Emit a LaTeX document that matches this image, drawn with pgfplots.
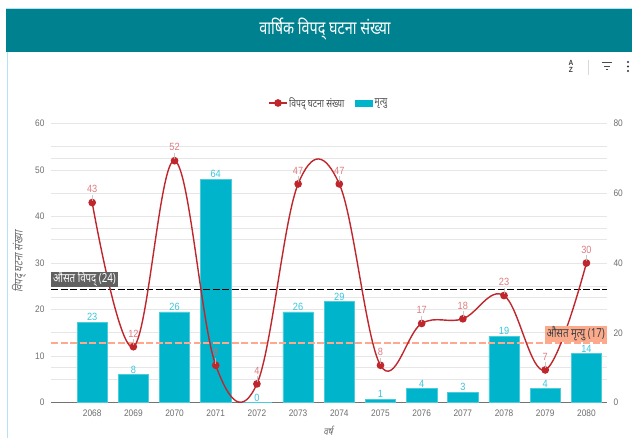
\documentclass[border=0pt]{standalone}
\usepackage{fontspec}
\usepackage{pgfplots}
\pgfplotsset{compat=1.18}
\setmainfont{Liberation Sans}
\newfontfamily\devn[Script=Devanagari,FakeStretch=0.78]{Noto Sans}
\newfontfamily\devi[Script=Devanagari,FakeStretch=0.8,FakeSlant=0.2]{Noto Sans}
\newfontfamily\tkf[FakeStretch=0.88]{Liberation Sans}
\definecolor{teal1}{HTML}{00818F}
\definecolor{barc}{HTML}{00B4CB}
\definecolor{barl}{HTML}{3AC6DC}
\definecolor{linec}{HTML}{C0272D}
\definecolor{linel}{HTML}{D9666C}
\definecolor{gridc}{HTML}{E6E6E6}
\definecolor{tickc}{HTML}{6E6E6E}
\definecolor{meano}{HTML}{FFA88E}
\definecolor{meanb}{HTML}{FBAA8C}
\begin{document}
\begin{tikzpicture}
\useasboundingbox (0,0) rectangle (632bp,438bp);
\begin{scope}[x=1bp,y=1bp]
\fill[white] (0,0) rectangle (632,438);
\fill[teal1] (6,386) rectangle (632,429);
\draw[line width=.8bp,black!10!cyan!30] (7.5,0) -- (7.5,386);
\draw[line width=.8bp,black!10!cyan!30] (6,429.4) -- (632,429.4);
\node[text=white,font=\devn\fontsize{18.5}{20}\selectfont] at (325,409) {वार्षिक विपद् घटना संख्या};
% toolbar icons
\node[text=black!75,font=\tkf\bfseries\fontsize{7.5}{8}\selectfont,inner sep=0] at (571,375.5) {A};
\node[text=black!75,font=\tkf\bfseries\fontsize{7.5}{8}\selectfont,inner sep=0] at (571,368.5) {Z};
\draw[black!15,line width=.6bp] (588,363) -- (588,378);
\draw[black!70,line width=1bp] (602,375) -- (612,375) (604,371.5) -- (610,371.5) (606,368) -- (608,368);
\foreach \yy in {367,371.5,376} \fill[black!80] (628,\yy) circle (1.1);
\end{scope}
\begin{axis}[
  name=bars, at={(51bp,35.5bp)}, anchor=south west,
  scale only axis, width=556bp, height=279bp,
  xmin=-1, xmax=12.5, ymin=0, ymax=80,
  axis y line*=right, axis x line*=bottom,
  axis line style={draw=none},
  x axis line style={draw=black!55,line width=1.2bp,-},
  xtick={0,...,12},
  xticklabels={2068,2069,2070,2071,2072,2073,2074,2075,2076,2077,2078,2079,2080},
  ytick={0,20,40,60,80},
  extra y ticks={6.667,10,13.333,26.667,30,33.333,46.667,50,53.333,66.667,70,73.333},
  extra y tick labels={},
  extra y tick style={grid=major,major grid style={gridc,line width=.9bp}},
  ymajorgrids, major grid style={gridc,line width=.9bp},
  tick style={draw=none},
  tick label style={text=tickc,font=\tkf\fontsize{9.5}{10}\selectfont},
  /pgf/number format/assume math mode=true,
  xticklabel style={yshift=-4bp},
  yticklabel style={xshift=3bp},
  clip=false,
  axis on top=false,
]
\addplot[ybar, bar width=30.3bp, fill=barc, draw=barc!70!white, line width=.5bp,
  nodes near coords, point meta=explicit symbolic,
  every node near coord/.append style={text=barl,font=\tkf\fontsize{10.5}{10}\selectfont,inner sep=1bp}]
  coordinates {(0,23)[23] (1,8)[8] (2,26)[26] (3,64)[64] (4,0)[0] (5,26)[26] (6,29)[29]
   (7,1)[1] (8,4)[4] (9,3)[3] (10,19)[19] (11,4)[4] (12,14)[14]};
\end{axis}
\begin{axis}[
  at={(51bp,35.5bp)}, anchor=south west,
  scale only axis, width=556bp, height=279bp,
  xmin=-1, xmax=12.5, ymin=0, ymax=60,
  axis y line*=left, axis x line=none,
  axis line style={draw=none},
  ytick={0,10,...,60},
  tick style={draw=none},
  tick label style={text=tickc,font=\tkf\fontsize{9.5}{10}\selectfont},
  /pgf/number format/assume math mode=true,
  yticklabel style={xshift=-3bp},
  clip=false,
  legend columns=2,
  legend style={at={(0.5,1.0735)},anchor=center,draw=none,fill=none,
    font=\devn\fontsize{11}{11}\selectfont,text=black!70,
    /tikz/every even column/.style={column sep=9bp}},
  legend cell align=left,
]
\addplot[forget plot,black,line width=1.5bp,dash pattern=on 7bp off 2.5bp] coordinates {(-1,24.3)(12.5,24.3)};
\addplot[forget plot,meano,line width=1.5bp,dash pattern=on 7bp off 2.5bp] coordinates {(-1,12.75)(12.5,12.75)};
\addplot[smooth,tension=0.63,linec,line width=1.4bp,mark=*,mark size=3.1bp,
  mark options={fill=linec,draw=linec},
  nodes near coords={\shortstack[c]{\pgfplotspointmeta\\[-1bp]{\color{black!25}\rule{.5bp}{6bp}}}},
  point meta=explicit symbolic,
  every node near coord/.append style={text=linel,text opacity=.85,font=\tkf\fontsize{10.5}{10}\selectfont,inner sep=0,anchor=south,yshift=1bp}]
  coordinates {(0,43)[43] (1,12)[12] (2,52)[52] (3,8)[8] (4,4)[4] (5,47)[47] (6,47)[47]
   (7,8)[8] (8,17)[17] (9,18)[18] (10,23)[23] (11,7)[7] (12,30)[30]};
\addlegendentry{विपद् घटना संख्या}
\addlegendimage{area legend,fill=barc,draw=barc}
\addlegendentry{मृत्यु}
\node[fill=black!62,text=white,font=\devn\fontsize{12.5}{13}\selectfont,inner xsep=2bp,inner ysep=0bp,anchor=south west,minimum height=15bp] at (axis cs:-1,24.9) {औसत विपद् (24)};
\node[fill=meanb,text=black!75,font=\devn\fontsize{12.5}{13}\selectfont,inner xsep=2bp,inner ysep=0bp,anchor=south east,minimum height=16bp] at (axis cs:12.5,13) {औसत मृत्यु (17)};
\end{axis}
\begin{scope}[x=1bp,y=1bp]
\node[rotate=90,text=tickc,font=\devi\fontsize{12}{12}\selectfont] at (19,176) {विपद् घटना संख्या};
\node[text=tickc,font=\devi\fontsize{10.5}{11}\selectfont] at (328,7) {वर्ष};
\node[rotate=90,text=tickc,font=\devi\fontsize{10.5}{11}\selectfont] at (637,178) {मृत्यु};
\end{scope}
\end{tikzpicture}
\end{document}
